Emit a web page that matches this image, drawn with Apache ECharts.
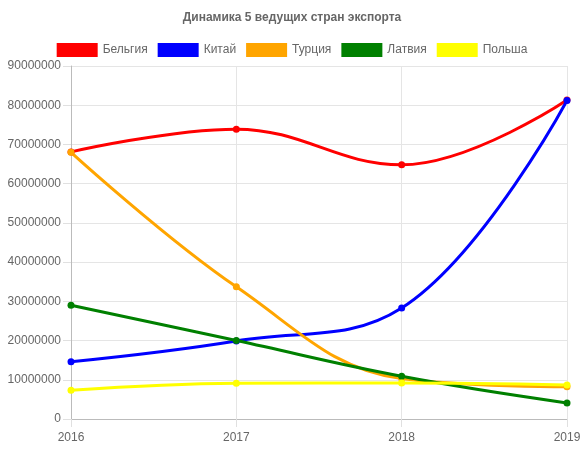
<!DOCTYPE html>
<html><head><meta charset="utf-8">
<script src="https://cdn.jsdelivr.net/npm/echarts@6/dist/echarts.min.js"></script>
<style>html,body{margin:0;padding:0;background:#fff}#c{width:584px;height:450px}</style>
</head><body><div id="c"></div>
<script>
const years = ['2016', '2017', '2018', '2019'];
const belgium = [68100000, 73900000, 64800000, 81300000];
const china = [14600000, 19900000, 28300000, 81200000];
const turkey = [68000000, 33700000, 10300000, 8200000];
const latvia = [29000000, 20000000, 10900000, 4100000];
const poland = [7300000, 9100000, 9200000, 8700000];
const seriesNames = ['Бельгия', 'Китай', 'Турция', 'Латвия', 'Польша'];
const colors = ['#ff0000', '#0000ff', '#ffa500', '#008000', '#ffff00'];
const dataSets = [belgium, china, turkey, latvia, poland];

const chart = echarts.init(document.getElementById('c'), null, {renderer: 'canvas'});
const font = 'Liberation Sans, Arial, Helvetica, sans-serif';
chart.setOption({
  animation: false,
  color: colors,
  title: {
    text: 'Динамика 5 ведущих стран экспорта',
    left: 'center', top: 7,
    textStyle: {fontFamily: font, fontSize: 12, fontWeight: 'bold', color: '#666'}
  },
  legend: {
    top: 38, left: 'center',
    itemWidth: 41, itemHeight: 14, itemGap: 10,
    icon: 'rect',
    textStyle: {fontFamily: font, fontSize: 12, color: '#666'},
    data: seriesNames
  },
  grid: {left: 71, right: 17, top: 66, bottom: 31, containLabel: false},
  xAxis: {
    type: 'category', data: years, boundaryGap: false,
    axisLine: {lineStyle: {color: '#bbb'}},
    axisTick: {show: true, length: 8, lineStyle: {color: '#e0e0e0'}},
    axisLabel: {fontFamily: font, fontSize: 12, color: '#666', margin: 13},
    splitLine: {show: true, lineStyle: {color: '#e5e5e5'}}
  },
  yAxis: {
    type: 'value', min: 0, max: 90000000, interval: 10000000,
    axisLine: {show: true, lineStyle: {color: '#bbb'}},
    axisTick: {show: true, length: 8, lineStyle: {color: '#e0e0e0'}},
    axisLabel: {fontFamily: font, fontSize: 12, color: '#666', margin: 10,
      formatter: v => String(v)},
    splitLine: {show: true, lineStyle: {color: '#e5e5e5'}}
  },
  series: seriesNames.map((n, i) => ({
    name: n, type: 'line', data: dataSets[i], smooth: 0.4,
    symbol: 'circle', symbolSize: 7, showSymbol: true,
    lineStyle: {width: 3, color: colors[i]},
    itemStyle: {color: colors[i]}
  }))
});
</script></body></html>
